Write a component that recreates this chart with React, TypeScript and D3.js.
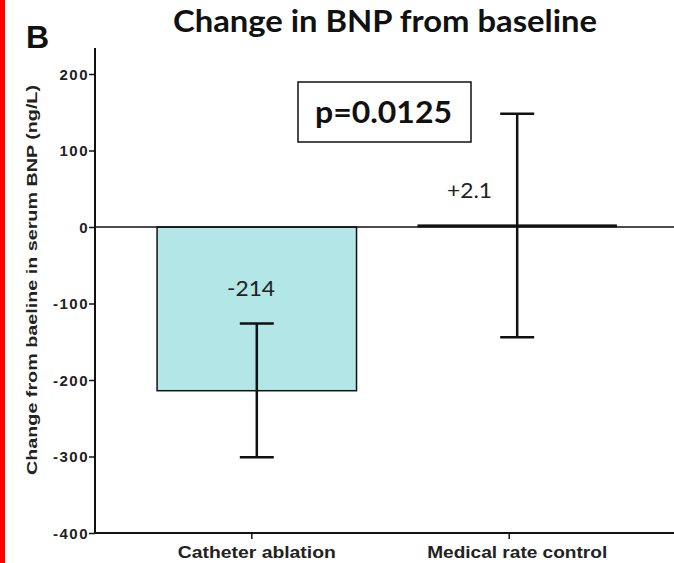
import React, { useEffect, useRef } from "react";
import * as d3 from "d3";

const groups = ["Catheter ablation", "Medical rate control"];
const means = [-214, 2.1];
const errLow = [-301, -144];
const errHigh = [-126, 148];
const barLabels = ["-214", "+2.1"];
const yTicks = [200, 100, 0, -100, -200, -300, -400];

const App = () => {
  const ref = useRef<SVGSVGElement>(null);

  useEffect(() => {
    const svg = d3.select(ref.current);
    svg.selectAll("*").remove();

    const W = 674;
    const H = 563;
    const left = 95;
    const right = 674;
    const sans = "'Liberation Sans', Arial, sans-serif";
    const cal = "Lato, 'Liberation Sans', sans-serif";

    const y = d3.scaleLinear().domain([-400, 200]).range([533, 74]);
    const x = d3.scaleBand().domain(groups).range([105, 669]).paddingInner(0.234).paddingOuter(0.2);

    svg.append("rect").attr("width", W).attr("height", H).attr("fill", "#fff");
    svg.append("rect").attr("x", 0).attr("y", 0).attr("width", 5).attr("height", H).attr("fill", "#ff0000");

    // bars
    const bw = x.bandwidth();
    groups.forEach((g, i) => {
      const x0 = x(g)!;
      const top = Math.min(y(0), y(means[i]));
      const h = Math.abs(y(means[i]) - y(0));
      if (i === 0) {
        svg.append("rect").attr("x", x0).attr("y", top).attr("width", bw).attr("height", h)
          .attr("fill", "#b3e6e6").attr("stroke", "#111").attr("stroke-width", 1.5);
      } else {
        svg.append("rect").attr("x", x0).attr("y", top - 1).attr("width", bw).attr("height", Math.max(h, 3))
          .attr("fill", "#111");
      }
    });

    // zero line
    svg.append("line").attr("x1", left).attr("x2", right).attr("y1", y(0)).attr("y2", y(0))
      .attr("stroke", "#111").attr("stroke-width", 1.5);

    // error bars
    groups.forEach((g, i) => {
      const cx = x(g)! + bw / 2;
      svg.append("line").attr("x1", cx).attr("x2", cx).attr("y1", y(errLow[i])).attr("y2", y(errHigh[i]))
        .attr("stroke", "#111").attr("stroke-width", 2.5);
      [errLow[i], errHigh[i]].forEach((v) => {
        svg.append("line").attr("x1", cx - 17).attr("x2", cx + 17).attr("y1", y(v)).attr("y2", y(v))
          .attr("stroke", "#111").attr("stroke-width", 2.5);
      });
    });

    // value labels
    svg.append("text").attr("x", 227).attr("y", 296)
      .attr("textLength", 48).attr("lengthAdjust", "spacingAndGlyphs")
      .style("font-family", cal).style("font-size", "22px").attr("fill", "#222")
      .text(barLabels[0]);
    svg.append("text").attr("x", 447).attr("y", 198)
      .attr("textLength", 45).attr("lengthAdjust", "spacingAndGlyphs")
      .style("font-family", cal).style("font-size", "22px").attr("fill", "#222")
      .text(barLabels[1]);

    // y axis
    const yAxis = svg.append("g").attr("transform", `translate(${left},0)`)
      .call(d3.axisLeft(y).tickValues(yTicks).tickFormat((d) => String(d)).tickSize(6).tickSizeOuter(0));
    yAxis.select(".domain").remove();
    yAxis.selectAll("line").attr("stroke", "#111").attr("stroke-width", 1.5);
    yAxis.selectAll("text").attr("x", -6).attr("dy", "0.35em").style("font-family", sans)
      .style("font-size", "15px").style("font-weight", "bold").style("letter-spacing", "1.5px")
      .attr("fill", "#222");
    svg.append("line").attr("x1", left).attr("x2", left).attr("y1", 48).attr("y2", 534)
      .attr("stroke", "#111").attr("stroke-width", 2);

    // x axis
    svg.append("line").attr("x1", left).attr("x2", right).attr("y1", 533).attr("y2", 533)
      .attr("stroke", "#111").attr("stroke-width", 2);
    const labelW = [158, 180];
    groups.forEach((g, i) => {
      const cx = x(g)! + bw / 2;
      svg.append("line").attr("x1", cx - 5 - i * 3).attr("x2", cx - 5 - i * 3).attr("y1", 533).attr("y2", 539)
        .attr("stroke", "#111").attr("stroke-width", 1.5);
      svg.append("text").attr("x", cx).attr("y", 558).attr("text-anchor", "middle")
        .attr("textLength", labelW[i]).attr("lengthAdjust", "spacingAndGlyphs")
        .style("font-family", sans).style("font-size", "16px")
        .style("font-weight", "bold").attr("fill", "#222").text(g);
    });

    // y label
    svg.append("text").attr("transform", "translate(37,280) rotate(-90)").attr("text-anchor", "middle")
      .attr("textLength", 390).attr("lengthAdjust", "spacingAndGlyphs")
      .style("font-family", sans).style("font-size", "14px")
      .style("font-weight", "bold").attr("fill", "#222")
      .text("Change from baeline in serum BNP (ng/L)");

    // title
    svg.append("text").attr("x", 173).attr("y", 32)
      .attr("textLength", 424).attr("lengthAdjust", "spacingAndGlyphs")
      .style("font-family", cal).style("font-size", "30px")
      .style("font-weight", "bold").attr("fill", "#111").text("Change in BNP from baseline");
    svg.append("text").attr("x", 26).attr("y", 48)
      .style("font-family", sans).style("font-size", "32px")
      .style("font-weight", "bold").attr("fill", "#111").text("B");

    // p-value box
    svg.append("rect").attr("x", 298).attr("y", 82).attr("width", 173).attr("height", 60)
      .attr("fill", "#fff").attr("stroke", "#111").attr("stroke-width", 1.5);
    svg.append("text").attr("x", 315).attr("y", 123)
      .attr("textLength", 137).attr("lengthAdjust", "spacingAndGlyphs")
      .style("font-family", cal).style("font-size", "31px")
      .style("font-weight", "bold").attr("fill", "#111").text("p=0.0125");
  }, []);

  return (
    <svg ref={ref} width={674} height={563} style={{ display: "block", position: "absolute", left: 0, top: 0 }} />
  );
};

export default App;
